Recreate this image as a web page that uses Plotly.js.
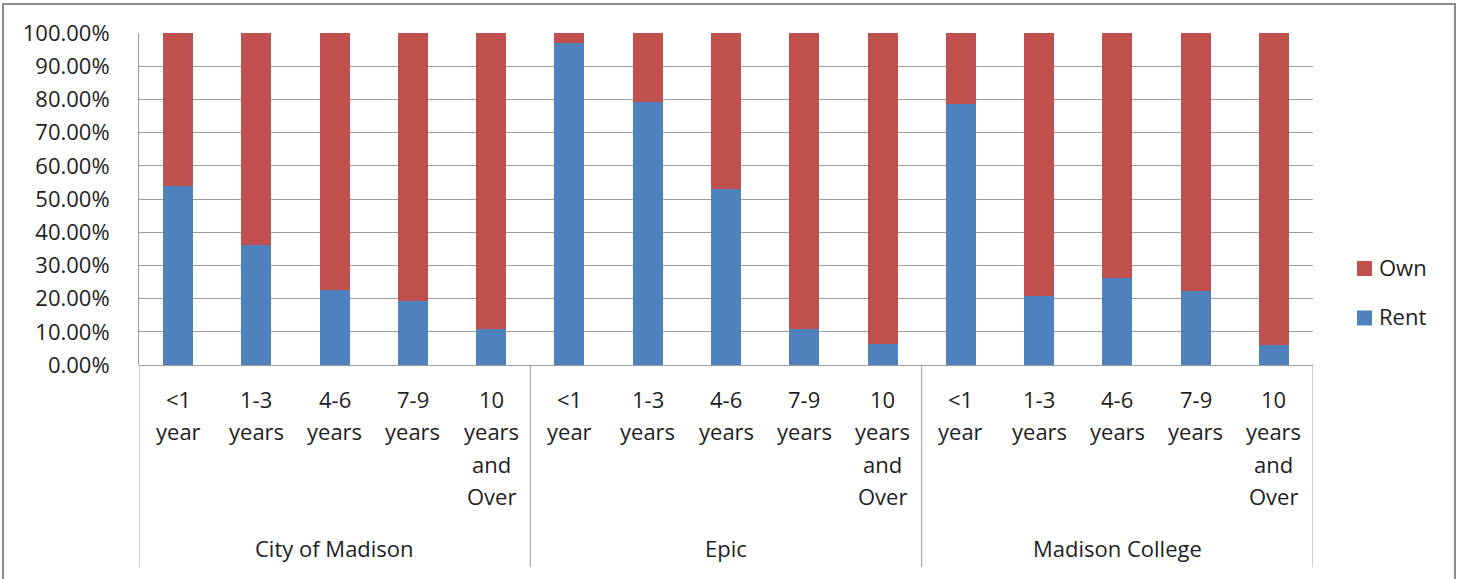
<!DOCTYPE html>
<html>
<head>
<meta charset="utf-8">
<script src="https://cdn.plot.ly/plotly-3.0.1.min.js"></script>
<style>html,body{margin:0;padding:0;background:#fff;}#chart{width:1463px;height:579px;}</style>
</head>
<body>
<div id="chart"></div>
<script>
// ---- data ----
const groups = ['City of Madison', 'Epic', 'Madison College'];
const periods = ['<1 year', '1-3 years', '4-6 years', '7-9 years', '10 years and Over'];
const periodLines = [['<1', 'year'], ['1-3', 'years'], ['4-6', 'years'], ['7-9', 'years'], ['10', 'years', 'and', 'Over']];
const seriesNames = ['Rent', 'Own'];
const rent = [0.538, 0.361, 0.226, 0.192, 0.109,
              0.970, 0.793, 0.531, 0.109, 0.064,
              0.785, 0.207, 0.261, 0.223, 0.060];
const own  = [0.462, 0.639, 0.774, 0.808, 0.891,
              0.030, 0.207, 0.469, 0.891, 0.936,
              0.215, 0.793, 0.739, 0.777, 0.940];
const yTicks = [0, 0.1, 0.2, 0.3, 0.4, 0.5, 0.6, 0.7, 0.8, 0.9, 1.0];

// ---- geometry / style ----
const W = 1463, H = 579;
const L = 139, R = 1313, T = 33, B = 365;
const pw = R - L, ph = B - T;
const px2x = p => (p - L) / pw;
const px2y = p => (B - p) / ph;
const FONT = 'Open Sans, Noto Sans, sans-serif';
const TXT = '#1e1e1e';
const GRID = '#9c9c9c';
const colors = {Rent: '#4F81BD', Own: '#C0504D'};

const nP = periods.length;
const xs = [], hov = [];
groups.forEach((g, gi) => periods.forEach((p, pi) => { xs.push(gi * nP + pi); hov.push(g + ' – ' + p); }));
const values = {Rent: rent, Own: own};

const traces = seriesNames.map(n => ({
  type: 'bar', name: n, x: xs, y: values[n], customdata: hov,
  marker: {color: colors[n], line: {width: 0}},
  hovertemplate: '%{customdata}<br>' + n + ': %{y:.2%}<extra></extra>'
}));

const annotations = [];
const shapes = [];
// category labels (multi-line)
const lineY = [399, 431, 464, 496];
groups.forEach((g, gi) => {
  periodLines.forEach((lines, pi) => {
    lines.forEach((t, li) => {
      annotations.push({xref: 'x', yref: 'paper', x: gi * nP + pi, y: 0, yshift: -(lineY[li] - B),
        text: t, showarrow: false, xanchor: 'center', yanchor: 'middle', font: {family: FONT, size: 22, color: TXT}});
    });
  });
  annotations.push({xref: 'x', yref: 'paper', x: gi * nP + (nP - 1) / 2, y: 0, yshift: -(548 - B),
    text: g, showarrow: false, xanchor: 'center', yanchor: 'middle', font: {family: FONT, size: 22, color: TXT}});
});
// group dividers
for (let k = 0; k <= groups.length; k++) {
  shapes.push({type: 'line', xref: 'x', yref: 'paper', x0: k * nP - 0.5, x1: k * nP - 0.5, y0: 0, y1: px2y(567),
    line: {color: GRID, width: 1}});
}
// outer border
shapes.push({type: 'rect', xref: 'paper', yref: 'paper', x0: px2x(3), x1: px2x(1455), y0: px2y(640), y1: px2y(4),
  line: {color: '#8c8c8c', width: 2}, fillcolor: 'rgba(0,0,0,0)', layer: 'below'});
// legend (Own above Rent)
const legY = {Own: 268.5, Rent: 318};
['Own', 'Rent'].forEach(n => {
  const cy = legY[n];
  shapes.push({type: 'rect', xref: 'paper', yref: 'paper', x0: px2x(1357), x1: px2x(1372), y0: px2y(cy + 7.5), y1: px2y(cy - 7.5),
    line: {width: 0}, fillcolor: colors[n]});
  annotations.push({xref: 'paper', yref: 'paper', x: px2x(1377), y: px2y(cy - 2), text: n, showarrow: false,
    xanchor: 'left', yanchor: 'middle', font: {family: FONT, size: 22, color: TXT}});
});

const layout = {
  width: W, height: H,
  margin: {l: L, r: W - R, t: T, b: H - B, pad: 0},
  paper_bgcolor: '#ffffff', plot_bgcolor: '#ffffff',
  barmode: 'stack', bargap: 0.617,
  showlegend: false,
  font: {family: FONT, size: 22, color: TXT},
  xaxis: {range: [-0.5, groups.length * nP - 0.5], showticklabels: false, showgrid: false, zeroline: false,
    showline: false, ticks: '', fixedrange: true},
  yaxis: {range: [0, 1], tickvals: yTicks, tickformat: '.2%', showgrid: true, gridcolor: GRID, gridwidth: 1,
    zeroline: true, zerolinecolor: GRID, zerolinewidth: 1, showline: true, linecolor: GRID, linewidth: 1,
    ticks: '', ticklabelstandoff: 24, tickfont: {family: FONT, size: 22, color: TXT}, fixedrange: true},
  annotations: annotations, shapes: shapes
};

Plotly.newPlot('chart', traces, layout, {displayModeBar: false, staticPlot: true});
</script>
</body>
</html>
